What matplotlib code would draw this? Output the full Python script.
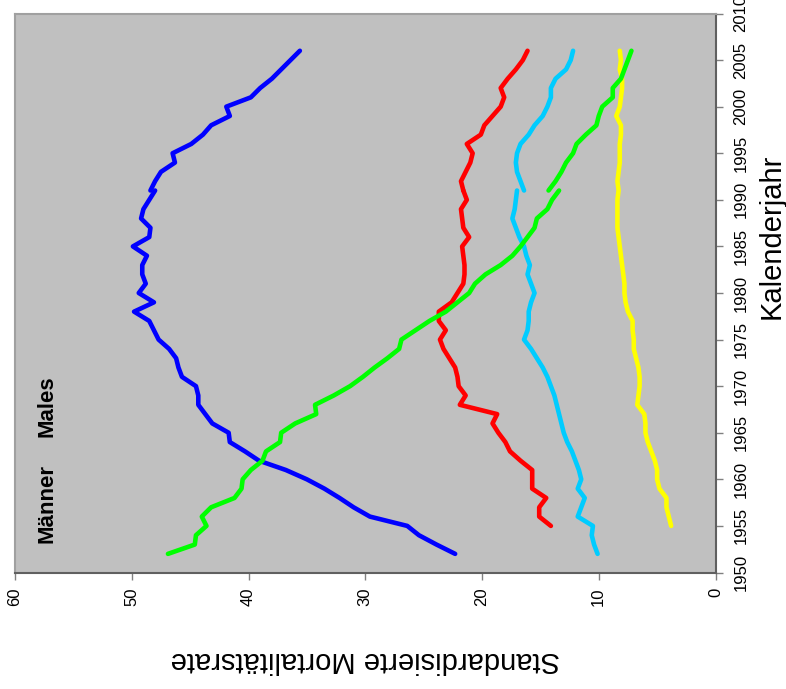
import matplotlib
matplotlib.use("Agg")
import matplotlib.pyplot as plt

plt.rcParams['font.family'] = ['Liberation Sans', 'DejaVu Sans']

# years of the two data segments (before / after 1991)
years_a = list(range(1952, 1992))
years_a55 = list(range(1955, 1992))
years_b = list(range(1991, 2007))
years_yellow = list(range(1955, 2007))

blue_a = [22.3, 23.9, 25.4, 26.4, 29.6, 31.0, 32.2, 33.5, 35.0, 36.8,
          39.1, 40.3, 41.6, 41.7, 43.1, 43.7, 44.3, 44.3, 44.5, 45.7,
          46.0, 46.2, 46.8, 47.7, 48.1, 48.5, 49.8, 48.1, 49.4, 48.8,
          49.1, 49.1, 48.7, 49.9, 48.5, 48.4, 49.2, 49.0, 48.5, 48.0]
blue_b = [48.4, 48.0, 47.5, 46.3, 46.5, 44.9, 43.9, 43.2, 41.6, 41.9,
          39.8, 39.0, 38.0, 37.2, 36.4, 35.6]

red_a = [14.1, 15.1, 15.1, 14.5, 15.7, 15.7, 15.7, 16.7, 17.6, 18.0,
         18.6, 19.1, 18.7, 21.9, 21.4, 22.0, 22.1, 22.3, 22.8, 23.3,
         23.6, 23.1, 23.7, 23.7, 22.6, 22.1, 21.6, 21.5, 21.5, 21.6,
         21.7, 21.1, 21.6, 21.7, 21.8, 21.3, 21.6]
red_b = [21.6, 21.8, 21.4, 21.0, 20.8, 21.3, 20.1, 19.8, 19.1, 18.4,
         18.1, 18.4, 17.8, 17.1, 16.5, 16.1]

cyan_a = [10.1, 10.4, 10.6, 10.5, 11.8, 11.5, 11.2, 11.8, 11.5, 11.7,
          12.0, 12.3, 12.7, 13.0, 13.2, 13.4, 13.6, 13.8, 14.1, 14.4,
          14.8, 15.3, 15.8, 16.4, 16.1, 16.0, 16.0, 15.8, 15.5, 15.8,
          16.1, 15.9, 16.2, 16.4, 16.8, 17.1, 17.4, 17.2, 17.1, 17.0]
cyan_b = [16.4, 16.7, 17.0, 17.1, 17.0, 16.7, 16.0, 15.5, 14.8, 14.4,
          14.1, 14.1, 13.7, 12.8, 12.4, 12.2]

green_a = [46.9, 44.6, 44.5, 43.6, 44.0, 43.2, 41.2, 40.6, 40.5, 39.8,
           38.8, 38.5, 37.3, 37.2, 36.0, 34.2, 34.3, 32.7, 31.3, 30.2,
           29.2, 28.1, 27.1, 26.9, 25.7, 24.5, 23.1, 22.1, 21.1, 20.6,
           19.7, 18.4, 17.4, 16.7, 16.1, 15.5, 15.3, 14.4, 14.0, 13.4]
green_b = [14.3, 13.7, 13.2, 12.8, 12.2, 11.9, 11.1, 10.2, 10.0, 9.7,
           8.8, 8.8, 8.1, 7.8, 7.5, 7.2]

yellow = [3.8, 4.0, 4.2, 4.2, 4.8, 5.0, 5.0, 5.2, 5.5, 5.8,
          6.0, 6.0, 6.1, 6.7, 6.6, 6.5, 6.5, 6.6, 6.8, 7.0,
          7.0, 7.1, 7.1, 7.5, 7.7, 7.8, 7.8, 7.9, 8.0, 8.1,
          8.2, 8.3, 8.4, 8.4, 8.4, 8.4, 8.3, 8.4, 8.3, 8.2,
          8.2, 8.2, 8.1, 8.1, 8.5, 8.2, 8.1, 8.0, 8.0, 8.2,
          8.1, 8.2]

rate_ticks = [0, 10, 20, 30, 40, 50, 60]
year_ticks = list(range(1950, 2011, 5))

fig = plt.figure(figsize=(7.86, 6.89), dpi=100)
ax = fig.add_axes([15 / 786, 1 - 572.5 / 689, 700.5 / 786, 559 / 689])
ax.set_facecolor('#C0C0C0')

lw = 3.3
kw = dict(lw=lw, solid_capstyle='round', solid_joinstyle='round')
# chart is turned on its side: rate runs horizontally, year vertically
ax.plot(blue_a, years_a, color='#0000FF', **kw)
ax.plot(blue_b, years_b, color='#0000FF', **kw)
ax.plot(red_a, years_a55, color='#FF0000', **kw)
ax.plot(red_b, years_b, color='#FF0000', **kw)
ax.plot(cyan_a, years_a, color='#00CCFF', **kw)
ax.plot(cyan_b, years_b, color='#00CCFF', **kw)
ax.plot(yellow, years_yellow, color='#FFFF00', **kw)
ax.plot(green_a, years_a, color='#00FF00', **kw)
ax.plot(green_b, years_b, color='#00FF00', **kw)

ax.set_xlim(60, 0)
ax.set_ylim(1950, 2010)
ax.set_xticks(rate_ticks)
ax.set_yticks(year_ticks)
ax.yaxis.tick_right()

ax.tick_params(axis='x', direction='out', length=5, width=1, color='#808080',
               labelsize=12, labelrotation=90, pad=6)
ax.tick_params(axis='y', direction='out', length=5, width=1, color='#808080',
               labelsize=12, labelrotation=90, pad=8)
for lab in ax.get_yticklabels():
    lab.set_verticalalignment('center')

for side in ['top', 'left']:
    ax.spines[side].set_color('#A0A0A0')
    ax.spines[side].set_linewidth(1.5)
for side in ['bottom', 'right']:
    ax.spines[side].set_color('#606060')
    ax.spines[side].set_linewidth(1.5)

ax.set_xlabel('Standardisierte Mortalitätsrate', fontsize=21, rotation=180,
              va='center', ha='center')
ax.xaxis.set_label_coords(0.5, -0.157)
ax.yaxis.set_label_position('right')
ax.set_ylabel('Kalenderjahr', fontsize=21, rotation=90, va='center', ha='center')
ax.yaxis.set_label_coords(1.08, 0.602)

ax.text(57.3, 1957.45, 'Männer', rotation=90, fontsize=16, fontweight='bold',
        ha='center', va='center')
ax.text(57.3, 1967.9, 'Males', rotation=90, fontsize=16, fontweight='bold',
        ha='center', va='center')

fig.savefig('out.png', dpi=100, facecolor='white')
